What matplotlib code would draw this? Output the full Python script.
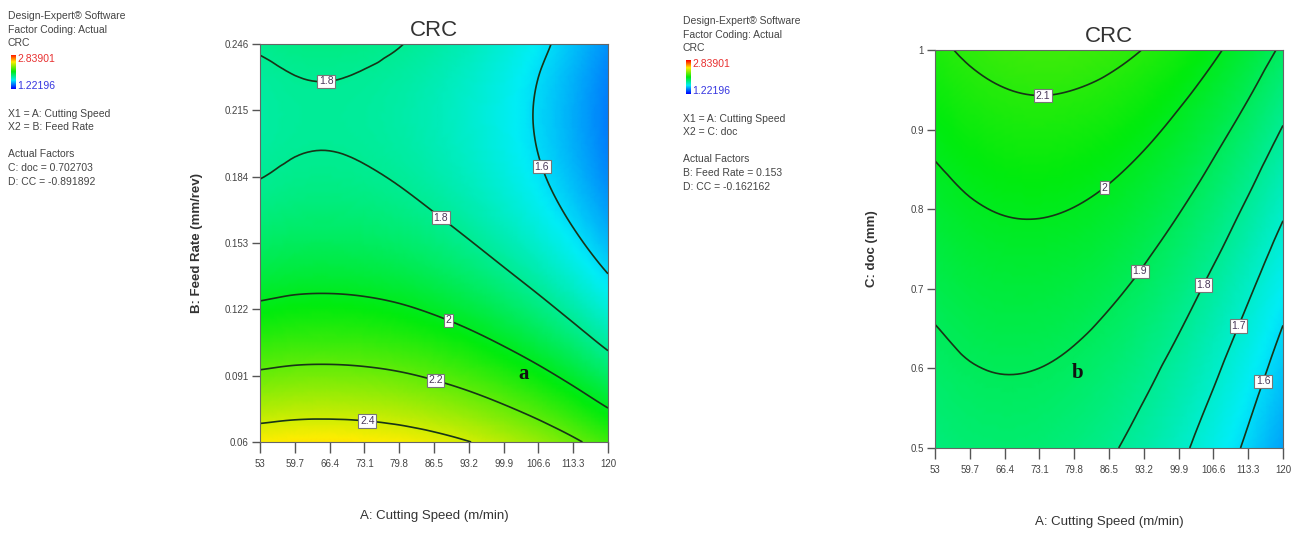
import numpy as np
import matplotlib
matplotlib.use('Agg')
import matplotlib.pyplot as plt
import matplotlib.tri as mtri
from matplotlib.colors import LinearSegmentedColormap

plt.rcParams['font.family'] = ['Liberation Sans', 'DejaVu Sans']

# colour scale limits of the CRC response
crc_min = 1.22196
crc_max = 2.83901

speed_ticks = [53, 59.7, 66.4, 73.1, 79.8, 86.5, 93.2, 99.9, 106.6, 113.3, 120]
feed_ticks = [0.06, 0.091, 0.122, 0.153, 0.184, 0.215, 0.246]
doc_ticks = [0.5, 0.6, 0.7, 0.8, 0.9, 1]

# grid nodes of the response surfaces
speed_grid = [53, 59.7, 66.4, 73.1, 79.8, 86.5, 93.2, 99.9, 106.6, 113.3, 120]
feed_grid = [0.06, 0.0755, 0.091, 0.1065, 0.122, 0.1375, 0.153,
             0.1685, 0.184, 0.1995, 0.215, 0.2305, 0.246]
doc_grid = [0.5, 0.5417, 0.5833, 0.625, 0.6667, 0.7083, 0.75,
            0.7917, 0.8333, 0.875, 0.9167, 0.9583, 1.0]

# CRC vs cutting speed (cols) and feed rate (rows)
crc_a = [
    [2.477, 2.492, 2.495, 2.488, 2.471, 2.442, 2.403, 2.353, 2.293, 2.221, 2.139],
    [2.341, 2.356, 2.359, 2.352, 2.335, 2.306, 2.267, 2.217, 2.157, 2.085, 2.003],
    [2.220, 2.235, 2.238, 2.231, 2.214, 2.185, 2.146, 2.096, 2.036, 1.964, 1.882],
    [2.113, 2.128, 2.131, 2.124, 2.107, 2.078, 2.039, 1.989, 1.929, 1.857, 1.775],
    [2.021, 2.036, 2.039, 2.032, 2.015, 1.986, 1.947, 1.897, 1.837, 1.765, 1.683],
    [1.943, 1.958, 1.961, 1.954, 1.937, 1.908, 1.869, 1.819, 1.759, 1.687, 1.605],
    [1.880, 1.895, 1.898, 1.891, 1.874, 1.845, 1.806, 1.756, 1.696, 1.624, 1.542],
    [1.832, 1.847, 1.850, 1.843, 1.826, 1.797, 1.758, 1.708, 1.648, 1.576, 1.494],
    [1.798, 1.813, 1.816, 1.809, 1.792, 1.763, 1.724, 1.674, 1.614, 1.542, 1.460],
    [1.779, 1.794, 1.797, 1.790, 1.773, 1.744, 1.705, 1.655, 1.595, 1.523, 1.441],
    [1.774, 1.789, 1.792, 1.785, 1.768, 1.739, 1.700, 1.650, 1.590, 1.518, 1.436],
    [1.784, 1.799, 1.802, 1.795, 1.778, 1.749, 1.710, 1.660, 1.600, 1.528, 1.446],
    [1.809, 1.824, 1.827, 1.820, 1.803, 1.774, 1.735, 1.685, 1.625, 1.553, 1.471],
]

# CRC vs cutting speed (cols) and depth of cut (rows)
crc_b = [
    [1.843, 1.858, 1.863, 1.856, 1.838, 1.810, 1.770, 1.719, 1.656, 1.583, 1.499],
    [1.856, 1.873, 1.879, 1.874, 1.857, 1.830, 1.791, 1.741, 1.680, 1.608, 1.525],
    [1.871, 1.889, 1.896, 1.892, 1.877, 1.850, 1.813, 1.764, 1.705, 1.634, 1.552],
    [1.887, 1.907, 1.915, 1.912, 1.898, 1.873, 1.836, 1.789, 1.730, 1.661, 1.580],
    [1.905, 1.925, 1.935, 1.933, 1.920, 1.896, 1.861, 1.815, 1.757, 1.689, 1.609],
    [1.923, 1.945, 1.955, 1.955, 1.943, 1.920, 1.887, 1.842, 1.785, 1.718, 1.640],
    [1.942, 1.965, 1.977, 1.978, 1.968, 1.946, 1.913, 1.870, 1.815, 1.749, 1.672],
    [1.963, 1.987, 2.000, 2.002, 1.993, 1.973, 1.941, 1.899, 1.845, 1.780, 1.705],
    [1.985, 2.010, 2.024, 2.028, 2.020, 2.001, 1.970, 1.929, 1.877, 1.813, 1.738],
    [2.008, 2.034, 2.050, 2.054, 2.047, 2.030, 2.001, 1.961, 1.909, 1.847, 1.774],
    [2.032, 2.059, 2.076, 2.082, 2.076, 2.060, 2.032, 1.993, 1.943, 1.882, 1.810],
    [2.057, 2.086, 2.104, 2.111, 2.106, 2.091, 2.064, 2.027, 1.978, 1.918, 1.847],
    [2.083, 2.113, 2.133, 2.141, 2.138, 2.123, 2.098, 2.062, 2.014, 1.955, 1.886],
]

levels_a = [1.6, 1.8, 2.0, 2.2, 2.4]
levels_b = [1.6, 1.7, 1.8, 1.9, 2.0, 2.1]

# where the contour value boxes sit
label_pos_a = [(65.5, 0.235), (106.5, 0.188), (88.2, 0.166),
               (89.8, 0.120), (87.3, 0.093), (73.8, 0.074)]
label_pos_b = [(73.8, 0.951), (84.8, 0.834), (91.5, 0.726),
               (104.0, 0.707), (110.8, 0.655), (115.6, 0.585)]

info_a = ['X1 = A: Cutting Speed', 'X2 = B: Feed Rate', '',
          'Actual Factors', 'C: doc = 0.702703', 'D: CC = -0.891892']
info_b = ['X1 = A: Cutting Speed', 'X2 = C: doc', '',
          'Actual Factors', 'B: Feed Rate = 0.153', 'D: CC = -0.162162']

de_cmap = LinearSegmentedColormap.from_list(
    'design_expert',
    [(0.0, (0.0, 0.0, 1.0)),
     (0.25, (0.0, 0.93, 0.97)),
     (0.5, (0.0, 0.92, 0.05)),
     (0.78, (1.0, 0.93, 0.0)),
     (1.0, (1.0, 0.0, 0.0))])

W, H = 1300, 536
fig = plt.figure(figsize=(13, 5.36), dpi=100)
txt_col = '#444444'


def px(x, y):
    return x / W, 1 - y / H


def info_block(x0, y0, lines):
    fig.text(*px(x0, y0), 'Design-Expert\u00ae Software', fontsize=7.5,
             color=txt_col, va='center')
    fig.text(*px(x0, y0 + 14), 'Factor Coding: Actual', fontsize=7.5,
             color=txt_col, va='center')
    fig.text(*px(x0, y0 + 27), 'CRC', fontsize=7.5, color=txt_col, va='center')
    cax = fig.add_axes([(x0 + 3) / W, 1 - (y0 + 73) / H, 5 / W, 34 / H])
    cax.imshow(np.linspace(0, 1, 64)[:, None], cmap=de_cmap, aspect='auto',
               origin='lower')
    cax.set_axis_off()
    fig.text(*px(x0 + 9, y0 + 43), '2.83901', fontsize=7.5, color='#e83030',
             va='center')
    fig.text(*px(x0 + 9, y0 + 70), '1.22196', fontsize=7.5, color='#3535e0',
             va='center')
    y = y0 + 98
    for i, line in enumerate(lines):
        if line:
            fig.text(*px(x0, y), line, fontsize=7.5, color=txt_col, va='center')
        y += 13 if i < 2 else 14


def panel(rect, ygrid, z, levels, label_pos, yticks, ylabel, tag, tag_xy):
    ax = fig.add_axes(rect)
    X, Y = np.meshgrid(speed_grid, ygrid)
    Z = np.array(z)
    # smooth the surface between grid nodes on a refined triangulation
    # (axes scaled to unit range so the cubic interpolator is well behaved)
    x0, x1 = speed_grid[0], speed_grid[-1]
    y0, y1 = ygrid[0], ygrid[-1]
    tri = mtri.Triangulation(((X - x0) / (x1 - x0)).ravel(),
                             ((Y - y0) / (y1 - y0)).ravel())
    interp = mtri.CubicTriInterpolator(tri, Z.ravel(), kind='geom')
    fine, zf = mtri.UniformTriRefiner(tri).refine_field(
        Z.ravel(), triinterpolator=interp, subdiv=3)
    fine = mtri.Triangulation(x0 + fine.x * (x1 - x0), y0 + fine.y * (y1 - y0),
                              fine.triangles)
    ax.tripcolor(fine, zf, shading='gouraud', cmap=de_cmap,
                 vmin=crc_min, vmax=crc_max)
    cs = ax.tricontour(fine, zf, levels=levels, colors='#173417',
                       linewidths=1.2)
    labels = ax.clabel(cs, fmt='%g', fontsize=7.5, inline=False,
                       manual=label_pos, colors='#4a3a5a')
    for t in labels:
        t.set_rotation(0)
        t.set_bbox(dict(facecolor='white', edgecolor='#777777',
                        boxstyle='square,pad=0.15', linewidth=0.8))
    ax.set_xlim(x0, x1)
    ax.set_ylim(y0, y1)
    ax.set_xticks(speed_ticks)
    ax.set_xticklabels([str(t) for t in speed_ticks])
    ax.set_yticks(yticks)
    ax.set_yticklabels([str(t) for t in yticks])
    ax.tick_params(axis='x', length=8, width=1, pad=4, labelsize=7,
                   colors='#555555', labelcolor=txt_col)
    ax.tick_params(axis='y', length=6, width=1, pad=2, labelsize=7,
                   colors='#555555', labelcolor=txt_col)
    for s in ax.spines.values():
        s.set_color('#666666')
        s.set_linewidth(0.8)
    ax.set_title('CRC', fontsize=16, color='#333333', pad=6)
    ax.set_xlabel('A: Cutting Speed (m/min)', fontsize=9.5, color='#333333')
    ax.xaxis.set_label_coords(0.5, -0.17)
    ax.set_ylabel(ylabel, fontsize=9.5, fontweight='bold', color='#333333')
    ax.yaxis.set_label_coords(-0.165, 0.5)
    ax.text(tag_xy[0], tag_xy[1], tag, transform=ax.transAxes, fontsize=15,
            fontweight='bold', family='Liberation Serif', color='#111111',
            ha='center', va='center')
    return ax


info_block(8, 16, info_a)
info_block(683, 21, info_b)

panel([260 / W, 94 / H, 348 / W, 398 / H], feed_grid, crc_a, levels_a,
      label_pos_a, feed_ticks, 'B: Feed Rate (mm/rev)', 'a', (0.756, 0.171))
panel([935 / W, 88 / H, 348 / W, 398 / H], doc_grid, crc_b, levels_b,
      label_pos_b, doc_ticks, 'C: doc (mm)', 'b', (0.411, 0.188))

fig.savefig('out.png', dpi=100)
